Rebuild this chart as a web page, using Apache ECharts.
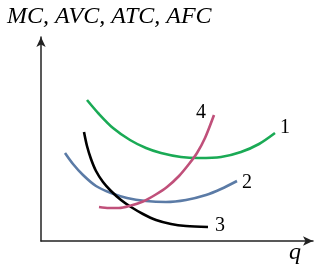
<!DOCTYPE html>
<html><head><meta charset="utf-8">
<script src="https://cdn.jsdelivr.net/npm/echarts@6/dist/echarts.min.js"></script>
<style>html,body{margin:0;padding:0;background:#fff}#c{width:324px;height:273px}</style>
</head><body><div id="c"></div>
<script>
const yTitle = 'MC, AVC, ATC, AFC';
const xTitle = 'q';
const curveLabels = ['1', '2', '3', '4'];
// [q, cost] in plot units
const curve1 = [[46,141],[58,127],[72,113],[89,101],[105,93],[120,88],[140,84],[158,83],[180,84],[200,89],[218,97],[234,108]];
const curve2 = [[24,88],[32,77],[42,66],[55,55],[70,48],[86,43],[105,40],[125,39],[145,41],[165,46],[180,52],[196,60]];
const curve3 = [[43,109],[46,95],[50,82],[55,70],[62,59],[70,50],[80,41],[90,34],[102,27],[115,21],[130,17],[145,15],[167,14]];
const curve4 = [[58,34],[68,33],[78,33],[90,35.5],[102,39.5],[114,46],[126,54],[138,65],[148,77],[156,88],[164,103],[173,126]];
const colors = ['#1aaa55', '#5b7ba6', '#000000', '#c0507a'];

const chart = echarts.init(document.getElementById('c'), null, {renderer: 'canvas'});
function mk(data, idx, off) {
  return {type: 'line', data: data, smooth: 0.3, showSymbol: false, symbol: 'none',
    lineStyle: {color: colors[idx], width: 2.6}, itemStyle: {color: colors[idx]}, silent: true, z: 3,
    endLabel: {show: true, formatter: curveLabels[idx], offset: off, distance: 5,
      color: '#000', fontFamily: 'Liberation Serif', fontSize: 20}};
}
chart.setOption({
  animation: false,
  grid: {left: 41, right: 11, top: 37, bottom: 32},
  xAxis: {type: 'value', min: 0, max: 272, splitLine: {show: false}, axisTick: {show: false}, axisLabel: {show: false},
    axisLine: {lineStyle: {color: '#222', width: 1.5}, symbol: ['none', 'arrow'], symbolSize: [7, 10], symbolOffset: [0, 0]}},
  yAxis: {type: 'value', min: 0, max: 204, splitLine: {show: false}, axisTick: {show: false}, axisLabel: {show: false},
    axisLine: {lineStyle: {color: '#222', width: 1.5}, symbol: ['none', 'arrow'], symbolSize: [7, 10], symbolOffset: [0, 0]}},
  series: [
    mk(curve1, 0, [0, -5]),
    mk(curve2, 1, [0, 2]),
    mk(curve3, 2, [2, -1]),
    mk(curve4, 3, [-23, -2])
  ],
  graphic: [
    {type: 'text', left: 7, top: 5, style: {text: yTitle, font: 'italic 24px "Liberation Serif"', fill: '#000'}},
    {type: 'text', left: 289, top: 241, style: {text: xTitle, font: 'italic 24px "Liberation Serif"', fill: '#000'}}
  ]
});
</script></body></html>
